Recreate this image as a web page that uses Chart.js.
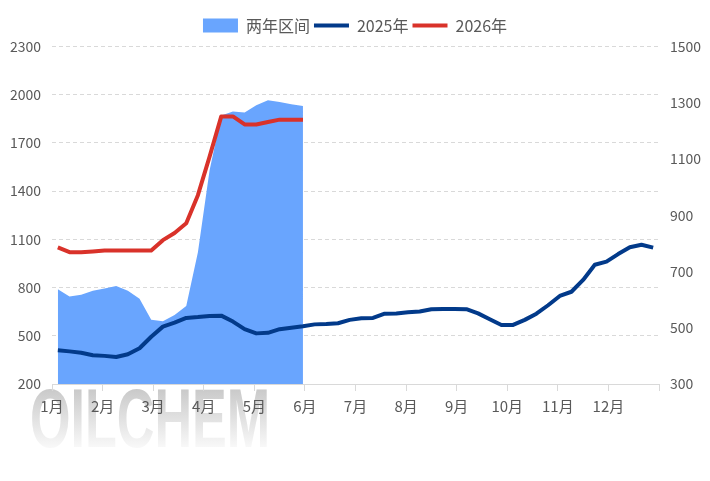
<!DOCTYPE html>
<html>
<head>
<meta charset="utf-8">
<script src="https://cdn.jsdelivr.net/npm/chart.js@4.4.1/dist/chart.umd.min.js"></script>
<style>
    html, body { margin: 0; padding: 0; background: #fff; }
    #wrap { width: 710px; height: 481px; }
</style>
</head>
<body>
<div id="wrap"><canvas id="chtPrice"></canvas></div>
<script>
'use strict';
// weekly categories
var weeks = ['1', '2', '3', '4', '5', '6', '7', '8', '9', '10', '11', '12', '13',
    '14', '15', '16', '17', '18', '19', '20', '21', '22', '23', '24', '25', '26',
    '27', '28', '29', '30', '31', '32', '33', '34', '35', '36', '37', '38', '39',
    '40', '41', '42', '43', '44', '45', '46', '47', '48', '49', '50', '51', '52'];
var months = ['1月', '2月', '3月', '4月', '5月', '6月', '7月', '8月', '9月', '10月', '11月', '12月'];

var rangeValues = [790, 745, 755, 780, 795, 810, 780, 730, 600, 590, 630, 685,
    1020, 1530, 1870, 1895, 1890, 1935, 1965, 1955, 1940, 1930];
var values2025 = [420, 416, 411, 402, 400, 396, 406, 427, 468, 504, 518, 535, 538,
    542, 543, 522, 495, 480, 482, 495, 500, 505, 512,
    513, 516, 528, 534, 535, 550, 551, 555, 558, 566, 567, 567, 566,
    551, 530, 510, 510, 528, 550, 580, 613, 628, 670, 724, 735, 762, 786, 795, 785];
var values2026 = [1050, 1020, 1020, 1025, 1030, 1030, 1030, 1030, 1030, 1095, 1140, 1200,
    1375, 1615, 1865, 1865, 1815, 1815, 1830, 1845, 1845, 1845];

var leftTicks = { min: 200, max: 2300, step: 300 };
var rightTicks = { min: 300, max: 1500, step: 200 };

Chart.defaults.font.family = '"Noto Sans CJK SC", "Noto Sans", sans-serif';
Chart.defaults.color = '#595959';

var watermark = {
    id: 'watermark',
    beforeDraw(chart) {
        var ctx = chart.ctx;
        ctx.save();
        ctx.translate(30, 447);
        ctx.scale(0.62, 1);
        var g = ctx.createLinearGradient(0, -62, 0, 0);
        g.addColorStop(0, '#c6c6c6');
        g.addColorStop(1, '#f8f8f8');
        ctx.fillStyle = g;
        ctx.font = 'bold 84px "Liberation Sans", sans-serif';
        ctx.textBaseline = 'alphabetic';
        ctx.fillText('OILCHEM', 0, 0);
        ctx.restore();
    }
};

var legendShift = {
    id: 'legendShift',
    afterLayout(chart) {
        chart.legend.top -= 3;
        chart.legend.bottom -= 3;
    }
};

new Chart(document.getElementById('chtPrice'), {
    type: 'line',
    data: {
        labels: weeks,
        datasets: [
            {
                label: '两年区间',
                data: rangeValues,
                yAxisID: 'y',
                fill: 'start',
                backgroundColor: '#69a5fe',
                borderColor: '#69a5fe',
                borderWidth: 0,
                pointRadius: 0,
                pointStyle: 'rect',
                order: 3
            }, {
                label: '2025年',
                data: values2025,
                yAxisID: 'y1',
                borderColor: '#023a8a',
                backgroundColor: '#023a8a',
                borderWidth: 4,
                borderJoinStyle: 'round',
                pointRadius: 0,
                pointStyle: 'line',
                order: 2
            }, {
                label: '2026年',
                data: values2026,
                yAxisID: 'y',
                borderColor: '#d9322a',
                backgroundColor: '#d9322a',
                borderWidth: 4,
                borderJoinStyle: 'round',
                pointRadius: 0,
                pointStyle: 'line',
                order: 1
            }
        ]
    },
    options: {
        responsive: true,
        maintainAspectRatio: false,
        animation: false,
        layout: { padding: { top: 16.5 } },
        plugins: {
            legend: {
                display: true,
                position: 'top',
                labels: {
                    usePointStyle: true,
                    pointStyleWidth: 35,
                    boxHeight: 14,
                    padding: 4,
                    color: '#595959',
                    font: { size: 16 },
                    sort: (a, b) => a.datasetIndex - b.datasetIndex
                }
            },
            tooltip: { enabled: false }
        },
        scales: {
            x: {
                type: 'category',
                offset: true,
                display: false
            },
            xm: {
                type: 'linear',
                position: 'bottom',
                min: 0,
                max: 12,
                afterFit(scale) { scale.height = 97; },
                ticks: {
                    stepSize: 1,
                    autoSkip: false,
                    maxRotation: 0,
                    padding: 6,
                    font: { size: 15 },
                    callback: (v) => months[v] || ''
                },
                grid: {
                    drawOnChartArea: false,
                    drawTicks: true,
                    tickLength: 7,
                    color: '#d9d9d9'
                },
                border: { color: '#d9d9d9', width: 1 }
            },
            y: {
                position: 'left',
                min: leftTicks.min,
                max: leftTicks.max,
                afterFit(scale) { scale.width = 52; },
                ticks: {
                    stepSize: leftTicks.step,
                    padding: 11,
                    font: { size: 14 },
                    callback: (v) => String(v)
                },
                grid: {
                    drawTicks: false,
                    color: (c) => c.tick && c.tick.value === leftTicks.min ? 'rgba(0,0,0,0)' : '#d9d9d9'
                },
                border: { display: false, dash: [4, 3] }
            },
            y1: {
                position: 'right',
                min: rightTicks.min,
                max: rightTicks.max,
                afterFit(scale) { scale.width = 51; },
                ticks: {
                    stepSize: rightTicks.step,
                    padding: 11,
                    font: { size: 14 },
                    callback: (v) => String(v)
                },
                grid: { drawOnChartArea: false, drawTicks: false },
                border: { display: false }
            }
        }
    },
    plugins: [watermark, legendShift]
});
</script>
</body>
</html>
